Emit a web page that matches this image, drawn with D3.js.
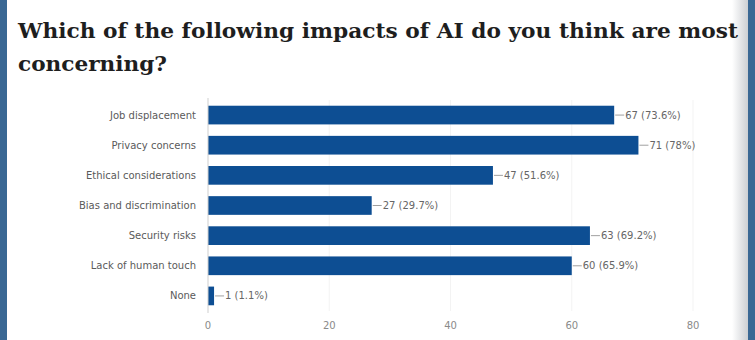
<!DOCTYPE html>
<html>
<head>
<meta charset="utf-8">
<script src="https://cdn.jsdelivr.net/npm/d3@7"></script>
<style>
  body { margin: 0; background: #fff; }
  svg { display: block; }
</style>
</head>
<body>
<div id="chart"></div>
<script>
var categories = ["Job displacement", "Privacy concerns", "Ethical considerations",
                  "Bias and discrimination", "Security risks", "Lack of human touch", "None"]
var counts = [67, 71, 47, 27, 63, 60, 1]
var percents = ["73.6%", "78%", "51.6%", "29.7%", "69.2%", "65.9%", "1.1%"]
var xTicks = [0, 20, 40, 60, 80]

var W = 755, H = 340
var labelFont = "'DejaVu Sans', Verdana, sans-serif"

var svg = d3.select("#chart").append("svg")
    .attr("width", W)
    .attr("height", H)

// page frame: blue strips on both sides, soft shadow on the right
var defs = svg.append("defs")
var grad = defs.append("linearGradient").attr("id", "shade")
grad.append("stop").attr("offset", "0%").attr("stop-color", "#ffffff")
grad.append("stop").attr("offset", "100%").attr("stop-color", "#c9ccd0")
svg.append("rect").attr("x", 732).attr("y", 0).attr("width", 17).attr("height", H).attr("fill", "url(#shade)")
svg.append("rect").attr("x", 0).attr("y", 0).attr("width", 7).attr("height", H).attr("fill", "#3a6894")
svg.append("rect").attr("x", 748).attr("y", 0).attr("width", 7).attr("height", H).attr("fill", "#3a6894")

// title
var title = svg.append("g")
    .style("font-family", "'DejaVu Serif', 'Liberation Serif', serif")
    .style("font-weight", "bold")
    .style("font-size", "19.5px")
    .attr("fill", "#1e1e1e")
title.append("text").attr("x", 18).attr("y", 38)
    .attr("textLength", 720).attr("lengthAdjust", "spacingAndGlyphs")
    .text("Which of the following impacts of AI do you think are most")
title.append("text").attr("x", 18).attr("y", 71)
    .attr("textLength", 149).attr("lengthAdjust", "spacingAndGlyphs")
    .text("concerning?")

var x = d3.scaleLinear().domain([0, 80]).range([208, 693])
var y = d3.scaleBand().domain(categories).range([100, 311]).paddingInner(0.38).paddingOuter(0.19)

var data = categories.map(function(c, i) {
    return {cat: c, n: counts[i], pct: percents[i]}
})

// faint vertical grid
svg.append("g").selectAll("line")
    .data(xTicks.slice(1))
    .enter().append("line")
    .attr("x1", function(d) { return x(d) }).attr("x2", function(d) { return x(d) })
    .attr("y1", 100).attr("y2", 311)
    .attr("stroke", "#f3f3f3")

// bars
svg.append("g").selectAll("rect")
    .data(data)
    .enter().append("rect")
    .attr("x", x(0))
    .attr("y", function(d) { return y(d.cat) })
    .attr("width", function(d) { return x(d.n) - x(0) })
    .attr("height", y.bandwidth())
    .attr("fill", "#0d4e93")

// base line
svg.append("line")
    .attr("x1", x(0)).attr("x2", x(0))
    .attr("y1", 98).attr("y2", 313)
    .attr("stroke", "#cfcfcf")

// category labels
svg.append("g").selectAll("text")
    .data(data)
    .enter().append("text")
    .attr("x", 196)
    .attr("y", function(d) { return y(d.cat) + y.bandwidth() / 2 })
    .attr("dy", "0.35em")
    .attr("text-anchor", "end")
    .style("font-family", labelFont)
    .style("font-size", "10px")
    .attr("fill", "#5a5a5a")
    .text(function(d) { return d.cat })

// value labels with a short leader
var vals = svg.append("g").selectAll("g")
    .data(data)
    .enter().append("g")
    .attr("transform", function(d) {
        return "translate(" + x(d.n) + "," + (y(d.cat) + y.bandwidth() / 2) + ")"
    })
vals.append("line")
    .attr("x1", 1).attr("x2", 10)
    .attr("stroke", "#a0a0a0")
vals.append("text")
    .attr("x", 11)
    .attr("dy", "0.35em")
    .style("font-family", labelFont)
    .style("font-size", "10px")
    .attr("fill", "#666")
    .text(function(d) { return d.n + " (" + d.pct + ")" })

// x tick labels
svg.append("g").selectAll("text")
    .data(xTicks)
    .enter().append("text")
    .attr("x", function(d) { return x(d) })
    .attr("y", 329)
    .attr("text-anchor", "middle")
    .style("font-family", labelFont)
    .style("font-size", "10px")
    .attr("fill", "#8a8a8a")
    .text(function(d) { return d })
</script>
</body>
</html>
